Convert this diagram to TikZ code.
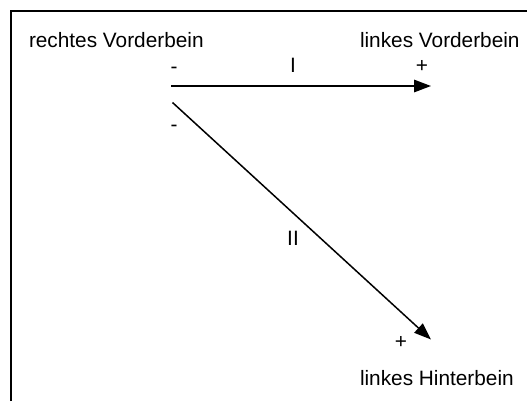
\documentclass[tikz,border=0pt]{standalone}
\usepackage{fontspec}
\setmainfont{Liberation Sans}
\usetikzlibrary{arrows.meta}
\begin{document}
\begin{tikzpicture}[x=1bp,y=-1bp,
  lbl/.style={inner sep=0pt,outer sep=0pt,font=\fontsize{20.8bp}{25bp}\selectfont},
  conn/.style={line width=1.5bp,-{Triangle[length=17bp,width=12.5bp]}},
  frame/.style={line width=2.2bp}]
\useasboundingbox (0,0) rectangle (527,401);
\draw[frame] (10.6,401) -- (10.6,11) -- (527,11);
\node[lbl,anchor=base west] (rv) at (29,47.7) {rechtes Vorderbein};
\node[lbl,anchor=base west] (lv) at (360,47.7) {linkes Vorderbein};
\node[lbl,anchor=base west] (lh) at (360,385) {linkes Hinterbein};
\node[lbl,anchor=base] (m1) at (174,73.5) {-};
\node[lbl,anchor=base] (l1) at (293,72) {I};
\node[lbl,anchor=base] (p1) at (422,72) {+};
\node[lbl,anchor=base] (m2) at (174,131.5) {-};
\node[lbl,anchor=base] (l2) at (293,245) {II};
\node[lbl,anchor=base] (p2) at (401,348.7) {+};
\coordinate (s1) at (171,86);
\coordinate (e1) at (431,86);
\coordinate (s2) at (172.5,102.5);
\coordinate (e2) at (431,339.5);
\draw[conn] (s1) -- (e1);
\draw[conn] (s2) -- (e2);
\end{tikzpicture}
\end{document}
